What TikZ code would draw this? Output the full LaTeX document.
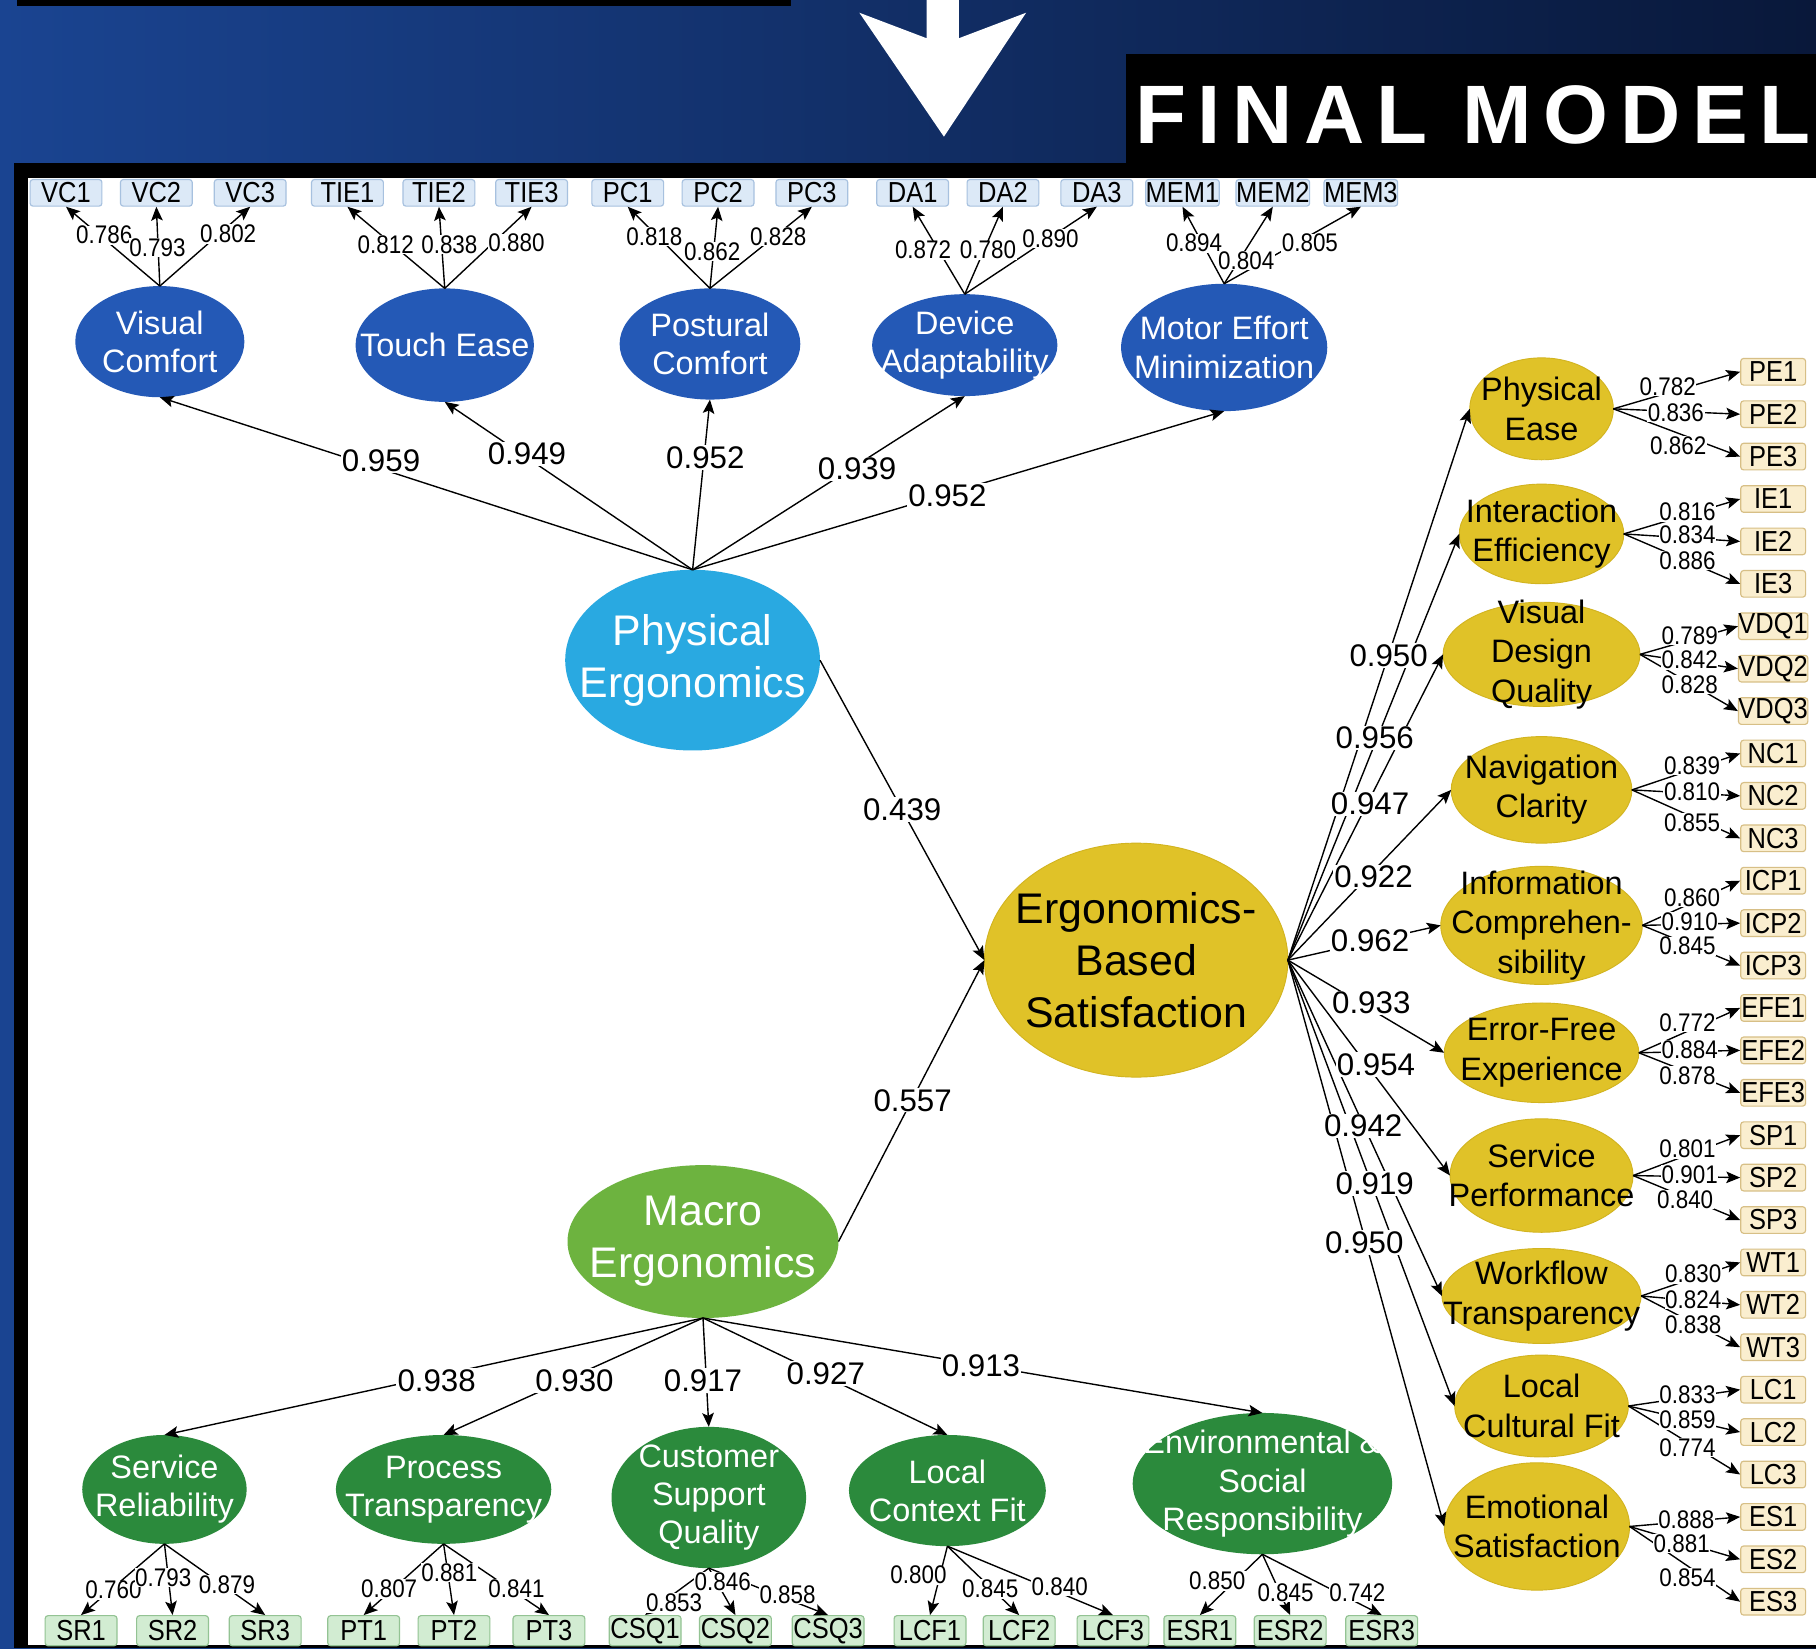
\documentclass[tikz,border=0pt]{standalone}
\usepackage{fontspec}
\usepackage{graphicx}
\setmainfont{Liberation Sans}
\newfontfamily\narrowf{Liberation Sans}[FakeStretch=0.88]
\usetikzlibrary{shapes.geometric,arrows.meta}
\definecolor{bgL}{HTML}{1A4491}
\definecolor{bgM}{HTML}{0C2756}
\definecolor{bgR}{HTML}{09183A}
\definecolor{latblue}{HTML}{2459B6}
\definecolor{phyblue}{HTML}{29A9E1}
\definecolor{macgreen}{HTML}{6DB33F}
\definecolor{dgreen}{HTML}{2B8A3C}
\definecolor{yel}{HTML}{E0C228}
\definecolor{yeldraw}{HTML}{D2B420}
\definecolor{tfill}{HTML}{DCE9F7}
\definecolor{tdraw}{HTML}{A7C1DF}
\definecolor{rfill}{HTML}{FAEECF}
\definecolor{rdraw}{HTML}{D7BF86}
\definecolor{bfill}{HTML}{D2ECD2}
\definecolor{bdraw}{HTML}{93C393}
\tikzset{
  lat/.style={ellipse, inner sep=0pt, outer sep=0pt},
  wtxt/.style={text=white, align=center, inner sep=0pt, font=\fontsize{28}{33}\selectfont},
  ktxt/.style={text=black, align=center, inner sep=0pt, font=\fontsize{28}{34}\selectfont},
  wbig/.style={text=white, align=center, inner sep=0pt, font=\fontsize{37}{45}\selectfont},
  kbig/.style={text=black, align=center, inner sep=0pt, font=\fontsize{37}{45}\selectfont},
  ind/.style={rectangle, rounded corners=2.5pt, inner sep=0pt, line width=1pt, font=\narrowf\fontsize{25}{25}\selectfont},
  tind/.style={ind, fill=tfill, draw=tdraw, minimum width=62pt, minimum height=23pt},
  bind/.style={ind, fill=bfill, draw=bdraw, minimum width=62pt, minimum height=26pt},
  rind/.style={ind, fill=rfill, draw=rdraw, minimum width=56pt, minimum height=23pt},
  arr/.style={line width=1.2pt, -{Stealth[length=12pt,width=10pt,inset=2.5pt]}},
  slbl/.style={fill=white, inner sep=0.5pt, font=\narrowf\fontsize{22}{22}\selectfont},
  blbl/.style={fill=white, inner sep=1pt, font=\fontsize{27}{27}\selectfont},
}
\begin{document}
\begin{tikzpicture}[x=1pt,y=-1pt]
\useasboundingbox (0,0) rectangle (1568,1423);
% background
\shade[left color=bgL, middle color=bgM, right color=bgR] (0,0) rectangle (1568,1423);
\fill[black] (15,0) rectangle (683,5);
\fill[white] (800,0) -- (828,0) -- (828,33) -- (886,11) -- (815,118) -- (742,11) -- (800,33) -- cycle;
\fill[black] (972,47) rectangle (1568,141);
\node[anchor=south west, inner sep=0pt, text=white] (title) at (980,125)
  {\resizebox{583pt}{50pt}{\bfseries\addfontfeatures{LetterSpace=14}FINAL MODEL}};
\fill[black] (12,141) rectangle (1568,1423);
\fill[white] (24,154) rectangle (1568,1420);

% ---------- top indicators
\foreach \n/\x in {VC1/57,VC2/135,VC3/216,TIE1/300,TIE2/379,TIE3/459,PC1/542,PC2/620,PC3/701,DA1/788,DA2/866,DA3/947,MEM1/1021,MEM2/1099,MEM3/1175}
  \node[tind] (\n) at (\x,166.5) {\n};

% ---------- top latents
\node[lat, fill=latblue, minimum width=146pt, minimum height=96pt, label={[wtxt]center:{Visual\\Comfort}}] (vc) at (138,295) {};
\node[lat, fill=latblue, minimum width=154pt, minimum height=98pt, label={[wtxt]center:{Touch Ease}}] (te) at (384,298) {};
\node[lat, fill=latblue, minimum width=156pt, minimum height=96pt, label={[wtxt]center:{Postural\\Comfort}}] (pc) at (613,297) {};
\node[lat, fill=latblue, minimum width=160pt, minimum height=88pt, label={[wtxt]center:{Device\\Adaptability}}] (da) at (833,298) {};
\node[lat, fill=latblue, minimum width=178pt, minimum height=110pt, label={[wtxt]center:{Motor Effort\\Minimization}}] (mem) at (1057,300) {};

% ---------- second-order and outcome
\node[lat, fill=phyblue, minimum width=220pt, minimum height=156pt, label={[wbig]center:{Physical\\Ergonomics}}] (phy) at (598,570) {};
\node[lat, fill=yel, draw=yeldraw, line width=0.8pt, minimum width=262pt, minimum height=202pt, label={[kbig]center:{Ergonomics-\\Based\\Satisfaction}}] (ebs) at (981,829) {};
\node[lat, fill=macgreen, minimum width=234pt, minimum height=132pt, label={[wbig]center:{Macro\\Ergonomics}}] (mac) at (607,1072) {};

% ---------- green latents
\node[lat, fill=dgreen, minimum width=142pt, minimum height=94pt, label={[wtxt]center:{Service\\Reliability}}] (sr) at (142,1286) {};
\node[lat, fill=dgreen, minimum width=186pt, minimum height=94pt, label={[wtxt]center:{Process\\Transparency}}] (pt) at (383,1286) {};
\node[lat, fill=dgreen, minimum width=168pt, minimum height=122pt, label={[wtxt]center:{Customer\\Support\\Quality}}] (csq) at (612,1293) {};
\node[lat, fill=dgreen, minimum width=170pt, minimum height=96pt, label={[wtxt]center:{Local\\Context Fit}}] (lcf) at (818,1287) {};
\node[lat, fill=dgreen, minimum width=224pt, minimum height=122pt, label={[wtxt]center:{Environmental \&\\Social\\Responsibility}}] (esr) at (1090,1281) {};

% ---------- bottom indicators
\foreach \n/\x in {SR1/70,SR2/149,SR3/229,PT1/314,PT2/392,PT3/474,CSQ1/557,CSQ2/635,CSQ3/715,LCF1/803,LCF2/880,LCF3/961,ESR1/1036,ESR2/1114,ESR3/1193}
  \node[bind] (\n) at (\x,1408) {\n};

% ---------- right latents
\node[lat, fill=yel, draw=yeldraw, line width=0.8pt, minimum width=124pt, minimum height=88pt, label={[ktxt]center:{Physical\\Ease}}] (pe) at (1331,353) {};
\node[lat, fill=yel, draw=yeldraw, line width=0.8pt, minimum width=142pt, minimum height=86pt, label={[ktxt]center:{Interaction\\Efficiency}}] (ie) at (1331,461) {};
\node[lat, fill=yel, draw=yeldraw, line width=0.8pt, minimum width=170pt, minimum height=90pt, label={[ktxt]center:{Visual\\Design\\Quality}}] (vdq) at (1331,565) {};
\node[lat, fill=yel, draw=yeldraw, line width=0.8pt, minimum width=156pt, minimum height=92pt, label={[ktxt]center:{Navigation\\Clarity}}] (nc) at (1331,682) {};
\node[lat, fill=yel, draw=yeldraw, line width=0.8pt, minimum width=174pt, minimum height=102pt, label={[ktxt]center:{Information\\Comprehen-\\sibility}}] (icp) at (1331,799) {};
\node[lat, fill=yel, draw=yeldraw, line width=0.8pt, minimum width=168pt, minimum height=86pt, label={[ktxt]center:{Error-Free\\Experience}}] (efe) at (1331,909) {};
\node[lat, fill=yel, draw=yeldraw, line width=0.8pt, minimum width=158pt, minimum height=98pt, label={[ktxt]center:{Service\\Performance}}] (sp) at (1331,1015) {};
\node[lat, fill=yel, draw=yeldraw, line width=0.8pt, minimum width=172pt, minimum height=82pt, label={[ktxt]center:{Workflow\\Transparency}}] (wt) at (1331,1119) {};
\node[lat, fill=yel, draw=yeldraw, line width=0.8pt, minimum width=150pt, minimum height=88pt, label={[ktxt]center:{Local\\Cultural Fit}}] (lc) at (1331,1214) {};
\node[lat, fill=yel, draw=yeldraw, line width=0.8pt, minimum width=160pt, minimum height=110pt, label={[ktxt]center:{Emotional\\Satisfaction}}] (es) at (1327,1318) {};

% ---------- right indicators
\foreach \n [count=\i from 0] in {PE1,PE2,PE3,IE1,IE2,IE3,VDQ1,VDQ2,VDQ3,NC1,NC2,NC3,ICP1,ICP2,ICP3,EFE1,EFE2,EFE3,SP1,SP2,SP3,WT1,WT2,WT3,LC1,LC2,LC3,ES1,ES2,ES3}
  \node[rind] (\n) at (1531,{321+36.62*\i}) {\n};

% ---------- edges
\foreach \a/\b in {vc/VC1,vc/VC2,vc/VC3,te/TIE1,te/TIE2,te/TIE3,pc/PC1,pc/PC2,pc/PC3,da/DA1,da/DA2,da/DA3,mem/MEM1,mem/MEM2,mem/MEM3}
  \draw[arr] (\a.north) -- (\b.south);
\foreach \b in {vc,te,pc,da,mem}
  \draw[arr] (phy.north) -- (\b.south);
\draw[arr] (phy.east) -- (ebs.west);
\draw[arr] (mac.east) -- (ebs.west);
\foreach \b in {sr,pt,csq,lcf,esr}
  \draw[arr] (mac.south) -- (\b.north);
\foreach \a/\b in {sr/SR1,sr/SR2,sr/SR3,pt/PT1,pt/PT2,pt/PT3,csq/CSQ1,csq/CSQ2,csq/CSQ3,lcf/LCF1,lcf/LCF2,lcf/LCF3,esr/ESR1,esr/ESR2,esr/ESR3}
  \draw[arr] (\a.south) -- (\b.north);
\foreach \b in {pe,ie,vdq,nc,icp,efe,sp,wt,lc,es}
  \draw[arr] (ebs.east) -- (\b.west);
\foreach \a/\b in {pe/PE1,pe/PE2,pe/PE3,ie/IE1,ie/IE2,ie/IE3,vdq/VDQ1,vdq/VDQ2,vdq/VDQ3,nc/NC1,nc/NC2,nc/NC3,icp/ICP1,icp/ICP2,icp/ICP3,efe/EFE1,efe/EFE2,efe/EFE3,sp/SP1,sp/SP2,sp/SP3,wt/WT1,wt/WT2,wt/WT3,lc/LC1,lc/LC2,lc/LC3,es/ES1,es/ES2,es/ES3}
  \draw[arr] (\a.east) -- (\b.west);

% ---------- labels: top loadings
\foreach \t/\x/\y [count=\i] in {0.786/90/203,0.793/136/214,0.802/197/202,0.812/333/211,0.838/388/211,0.880/446/210,0.818/565/204,0.862/615/217,0.828/672/204,0.872/797/216,0.780/853/216,0.890/907/206,0.894/1031/210,0.804/1076/225,0.805/1131/210}
  \node[slbl] (tl\i) at (\x,\y) {\t};
% bottom loadings
\foreach \t/\x/\y [count=\i] in {0.760/98/1373,0.793/141/1362,0.879/196/1368,0.807/336/1372,0.881/388/1358,0.841/446/1372,0.853/582/1384,0.846/624/1366,0.858/680/1377,0.800/793/1360,0.845/855/1372,0.840/915/1370,0.850/1051/1365,0.845/1110/1375,0.742/1172/1375}
  \node[slbl] (bl\i) at (\x,\y) {\t};
% right loadings
\foreach \t/\x/\y [count=\i] in {0.782/1440/334,0.836/1447/356,0.862/1449/385,0.816/1457/442,0.834/1457/462,0.886/1457/484,0.789/1459/549,0.842/1459/570,0.828/1459/591,0.839/1461/661,0.810/1461/684,0.855/1461/710,0.860/1461/775,0.910/1459/796,0.845/1457/817,0.772/1457/883,0.884/1459/906,0.878/1457/929,0.801/1457/992,0.901/1459/1014,0.840/1455/1036,0.830/1462/1100,0.824/1462/1122,0.838/1462/1144,0.833/1457/1204,0.859/1457/1226,0.774/1457/1250,0.888/1456/1312,0.881/1452/1333,0.854/1457/1362}
  \node[slbl] (rl\i) at (\x,\y) {\t};
% second-order labels
\foreach \t/\x/\y [count=\i] in {0.959/329/398,0.949/455/392,0.952/609/395,0.939/740/405,0.952/818/428,0.439/779/699,0.557/788/950,0.938/377/1192,0.930/496/1192,0.917/607/1192,0.927/713/1186,0.913/847/1179,0.950/1199/566,0.956/1187/637,0.947/1183/694,0.922/1186/757,0.962/1183/812,0.933/1184/866,0.954/1188/919,0.942/1177/972,0.919/1187/1022,0.950/1178/1073}
  \node[blbl] (sl\i) at (\x,\y) {\t};
\end{tikzpicture}
\end{document}
